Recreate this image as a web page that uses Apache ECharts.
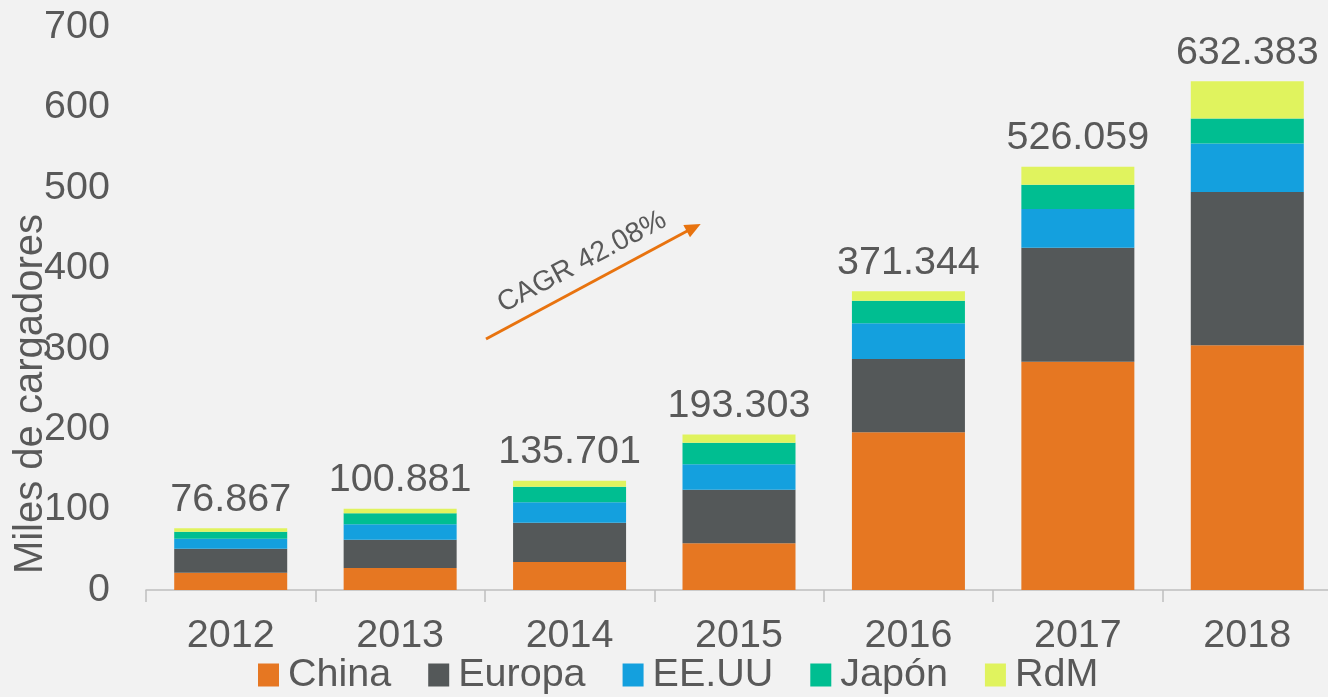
<!DOCTYPE html>
<html>
<head>
<meta charset="utf-8">
<script src="https://cdn.jsdelivr.net/npm/echarts@6/dist/echarts.min.js"></script>
<style>
html,body{margin:0;padding:0;background:#F2F2F2;overflow:hidden;}
#chart{width:1332px;height:697px;}
</style>
</head>
<body>
<div id="chart"></div>
<script>
var years = ['2012','2013','2014','2015','2016','2017','2018'];
var china  = [21.5, 27.4, 34.8, 58.0, 196.0, 283.9, 304.4];
var europa = [29.9, 35.2, 48.9, 66.7, 91.2, 141.7, 190.5];
var eeuu   = [12.4, 19.1, 25.3, 31.5, 44.4, 48.1, 60.4];
var japon  = [8.7, 13.7, 19.5, 27.0, 28.1, 30.3, 30.8];
var rdm    = [4.4, 5.5, 7.2, 10.1, 11.6, 22.1, 46.3];
var totalLabels = ['76.867','100.881','135.701','193.303','371.344','526.059','632.383'];
var yTicks = [0, 100, 200, 300, 400, 500, 600, 700];
var seriesNames = ['China','Europa','EE.UU','Japón','RdM'];
var seriesColors = ['#E67722','#545859','#14A0DE','#00BE91','#E0F35E'];

var FONT = "'Liberation Sans', Arial, sans-serif";
var TXT = '#595959';

var chart = echarts.init(document.getElementById('chart'));
var dataSets = [china, europa, eeuu, japon, rdm];
var series = dataSets.map(function (d, i) {
  var s = {
    name: seriesNames[i],
    type: 'bar',
    stack: 'total',
    data: d,
    barCategoryGap: '33.3%',
    itemStyle: { color: seriesColors[i] }
  };
  if (i === dataSets.length - 1) {
    s.label = {
      show: true,
      position: 'top',
      distance: 9,
      fontFamily: FONT,
      fontSize: 39.5,
      lineHeight: 39,
      color: TXT,
      formatter: function (p) { return totalLabels[p.dataIndex]; }
    };
  }
  return s;
});

chart.setOption({
  backgroundColor: '#F2F2F2',
  animation: false,
  textStyle: { fontFamily: FONT },
  grid: { left: 146, top: 27, width: 1186, height: 563, containLabel: false },
  legend: {
    data: seriesNames,
    left: 258,
    top: 655,
    padding: 0,
    itemGap: 37,
    itemWidth: 21,
    itemHeight: 23,
    icon: 'rect',
    textStyle: { fontFamily: FONT, fontSize: 39.5, lineHeight: 39, color: TXT, padding: [0, 0, 0, 4] }
  },
  xAxis: {
    type: 'category',
    data: years,
    axisLine: { lineStyle: { color: '#BFBFBF', width: 1.5 } },
    axisTick: { show: true, length: 12, lineStyle: { color: '#BFBFBF', width: 1.5 } },
    axisLabel: { fontFamily: FONT, fontSize: 39.5, lineHeight: 39, color: TXT, margin: 27 }
  },
  yAxis: {
    type: 'value',
    min: yTicks[0],
    max: yTicks[yTicks.length - 1],
    interval: 100,
    axisLine: { show: false },
    axisTick: { show: false },
    splitLine: { show: false },
    axisLabel: { fontFamily: FONT, fontSize: 39.5, color: TXT, margin: 36 }
  },
  graphic: [
    {
      type: 'text',
      x: 31, y: 394,
      rotation: Math.PI / 2,
      style: { text: 'Miles de cargadores', font: "40px 'Liberation Sans', Arial, sans-serif", fill: TXT, align: 'center', verticalAlign: 'middle' },
      z: 10
    },
    {
      type: 'line',
      shape: { x1: 486, y1: 339, x2: 690, y2: 229.5 },
      style: { stroke: '#E8730F', lineWidth: 3 },
      z: 10
    },
    {
      type: 'polygon',
      shape: { points: [[700.7, 224], [683.3, 225], [690, 237.3]] },
      style: { fill: '#E8730F' },
      z: 10
    },
    {
      type: 'text',
      x: 582, y: 262,
      rotation: 28 * Math.PI / 180,
      style: { text: 'CAGR 42.08%', font: "28.5px 'Liberation Sans', Arial, sans-serif", fill: TXT, align: 'center', verticalAlign: 'middle' },
      z: 10
    }
  ],
  series: series
});
</script>
</body>
</html>
